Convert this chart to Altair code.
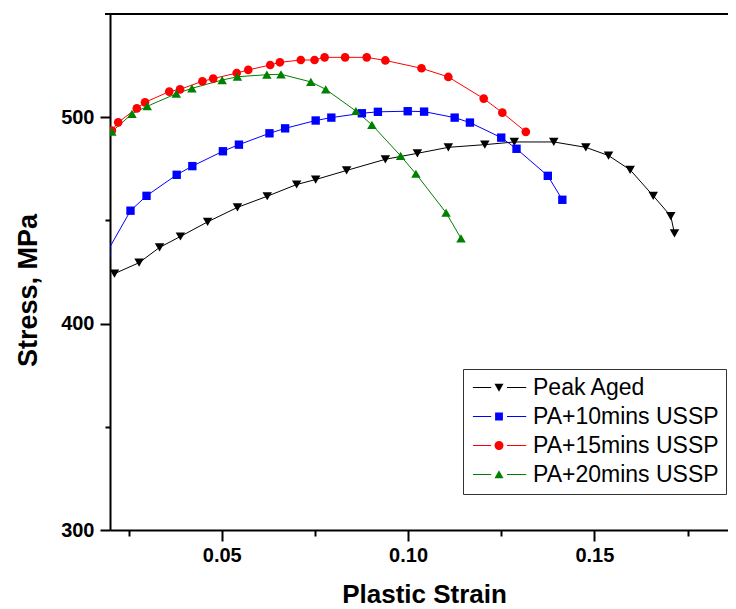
import altair as alt
import pandas as pd

series_names = ["Peak Aged", "PA+10mins USSP", "PA+15mins USSP", "PA+20mins USSP"]
series_colors = ["#000000", "#0000FF", "#FF0000", "#008000"]
series_shapes = ["triangle-down", "square", "circle", "triangle-up"]

peak_strain = [0.0212, 0.0278, 0.0333, 0.0389, 0.0462, 0.0542, 0.0622, 0.0701, 0.0752, 0.0835,
               0.0939, 0.1025, 0.1108, 0.1206, 0.1285, 0.1391, 0.1477, 0.1538, 0.1596, 0.1658,
               0.1705, 0.1715]
peak_stress = [424.2, 429.5, 436.9, 442.2, 449.3, 456.3, 461.7, 467.4, 469.8, 474.2,
               479.6, 482.5, 485.4, 486.7, 488.0, 488.0, 485.4, 481.4, 474.5, 461.9,
               452.1, 443.7]

pa10_strain = [0.0190, 0.0255, 0.0298, 0.0379, 0.0421, 0.0503, 0.0546, 0.0628, 0.0670, 0.0752,
               0.0794, 0.0876, 0.0919, 0.0999, 0.1043, 0.1125, 0.1166, 0.1250, 0.1291, 0.1375,
               0.1414]
pa10_stress = [434.0, 454.7, 461.9, 472.1, 476.3, 483.5, 486.7, 492.2, 494.6, 498.4,
               499.8, 501.9, 502.6, 502.9, 502.7, 499.8, 497.4, 490.1, 484.7, 471.6,
               460.0]

pa15_strain = [0.0205, 0.0222, 0.0272, 0.0294, 0.0359, 0.0388, 0.0448, 0.0477, 0.0540, 0.0571,
               0.0630, 0.0656, 0.0712, 0.0749, 0.0776, 0.0831, 0.0889, 0.0939, 0.1036, 0.1108,
               0.1203, 0.1253, 0.1316]
pa15_stress = [493.5, 497.5, 504.3, 507.2, 512.4, 513.5, 517.4, 518.7, 521.4, 522.9,
               525.3, 526.6, 527.7, 527.7, 529.0, 529.0, 529.0, 527.5, 523.7, 519.5,
               509.0, 502.2, 492.9]

pa20_strain = [0.0205, 0.0259, 0.0300, 0.0378, 0.0420, 0.0501, 0.0542, 0.0621, 0.0659, 0.0739,
               0.0779, 0.0860, 0.0903, 0.0980, 0.1021, 0.1102, 0.1142]
pa20_stress = [493.0, 501.6, 505.3, 511.4, 514.0, 518.0, 519.6, 520.6, 520.8, 517.1,
               513.5, 503.0, 496.3, 481.3, 472.6, 453.7, 441.3]

x_ticks = [0.025, 0.05, 0.075, 0.1, 0.125, 0.15, 0.175]
y_ticks = [300, 350, 400, 450, 500]

rows = []
for name, xs, ys in [(series_names[0], peak_strain, peak_stress),
                     (series_names[1], pa10_strain, pa10_stress),
                     (series_names[2], pa15_strain, pa15_stress),
                     (series_names[3], pa20_strain, pa20_stress)]:
    for i, (a, b) in enumerate(zip(xs, ys)):
        rows.append({"series": name, "strain": a, "stress": b, "order": i})
df = pd.DataFrame(rows)

W, H = 618, 516
FONT = "Liberation Sans"

# legend symbols: line with gap and marker (path coordinates in symbol units)
seg = "M-0.86,-0.05H0.97V0.05H-0.86Z M2.55,-0.05H4.47V0.05H2.55Z "
legend_paths = [
    seg + "M1.3,-0.38L2.2,-0.38L1.75,0.42Z",
    seg + "M1.36,-0.39H2.14V0.39H1.36Z",
    seg + "M1.3,0A0.45,0.45 0 1,0 2.2,0A0.45,0.45 0 1,0 1.3,0Z",
    seg + "M1.3,0.38L2.2,0.38L1.75,-0.42Z",
]

legend = alt.Legend(title=None, orient="none", legendX=353, legendY=355,
                    labelFont=FONT, labelFontSize=23, labelColor="#000", labelLimit=400,
                    symbolSize=400, labelOffset=40, padding=7, rowPadding=5,
                    strokeColor="#333", symbolStrokeWidth=0, symbolOpacity=1)

xscale = alt.Scale(domain=[0.02, 0.02 + W / 3726], nice=False, zero=False)
yscale = alt.Scale(domain=[300, 550], nice=False, zero=False)
cscale = alt.Scale(domain=series_names, range=series_colors)

minor_x_test = "abs(datum.value * 20 - round(datum.value * 20)) > 0.01"
tick_cond_x = {"condition": {"test": minor_x_test, "value": 6}, "value": 11}
tick_cond_y = {"condition": {"test": "datum.value % 100 != 0", "value": 5}, "value": 10}

xaxis = alt.Axis(values=x_ticks, format=".2f",
                 labelExpr="(" + minor_x_test + ") ? '' : datum.label",
                 title="Plastic Strain", titleFont=FONT, titleFontSize=26, titleFontWeight="bold",
                 titleColor="#000", titleBaseline="alphabetic", titleX=314, titleY=72,
                 titleAlign="center",
                 labelFont=FONT, labelFontSize=20, labelFontWeight="bold", labelColor="#000",
                 labelPadding=4, tickSize=tick_cond_x, tickWidth=2, tickColor="#000",
                 domainColor="#000", domainWidth=2, grid=False, labelFlush=False)
yaxis = alt.Axis(values=y_ticks,
                 labelExpr="datum.value % 100 == 0 ? datum.label : ''",
                 title="Stress, MPa", titleFont=FONT, titleFontSize=27, titleFontWeight="bold",
                 titleColor="#000", titleBaseline="alphabetic", titleX=-74, titleY=276,
                 titleAlign="center", titleAngle=270,
                 labelFont=FONT, labelFontSize=20, labelFontWeight="bold", labelColor="#000",
                 labelPadding=6, tickSize=tick_cond_y, tickWidth=2, tickColor="#000",
                 domainColor="#000", domainWidth=2, grid=False, labelFlush=False)

base = alt.Chart(df)
color_enc = alt.Color("series:N", scale=cscale, legend=legend)

lines = base.mark_line(strokeWidth=1, clip=True).encode(
    x=alt.X("strain:Q", scale=xscale, axis=xaxis),
    y=alt.Y("stress:Q", scale=yscale, axis=yaxis),
    color=color_enc,
    detail="series:N",
    order="order:Q",
)

point_layers = []
for name, shp in zip(series_names, series_shapes):
    sz = 70 if shp == "square" else (75 if shp == "circle" else 90)
    point_layers.append(
        base.transform_filter(alt.datum.series == name).mark_point(
            filled=True, opacity=1, size=sz, clip=True, shape=shp
        ).encode(
            x=alt.X("strain:Q", scale=xscale),
            y=alt.Y("stress:Q", scale=yscale),
            color=color_enc,
        )
    )

legend_layer = base.transform_filter("false").mark_point(filled=True, opacity=1).encode(
    x=alt.X("strain:Q", scale=xscale),
    y=alt.Y("stress:Q", scale=yscale),
    color=color_enc,
    shape=alt.Shape("series:N", scale=alt.Scale(domain=series_names, range=legend_paths), legend=legend),
)

top_line = alt.Chart(pd.DataFrame({"k": [0]})).mark_rule(color="#000", strokeWidth=2).encode(
    x=alt.value(-5), x2=alt.value(W + 5), y=alt.value(0)
)

chart = alt.layer(lines, *point_layers, legend_layer, top_line).properties(
    width=W, height=H,
    autosize=alt.AutoSizeParams(type="none"),
    padding={"left": 102, "top": 6, "right": 0, "bottom": 79},
).configure_view(stroke=None)

chart.save("out.html", embed_options={"renderer": "svg", "actions": False})
